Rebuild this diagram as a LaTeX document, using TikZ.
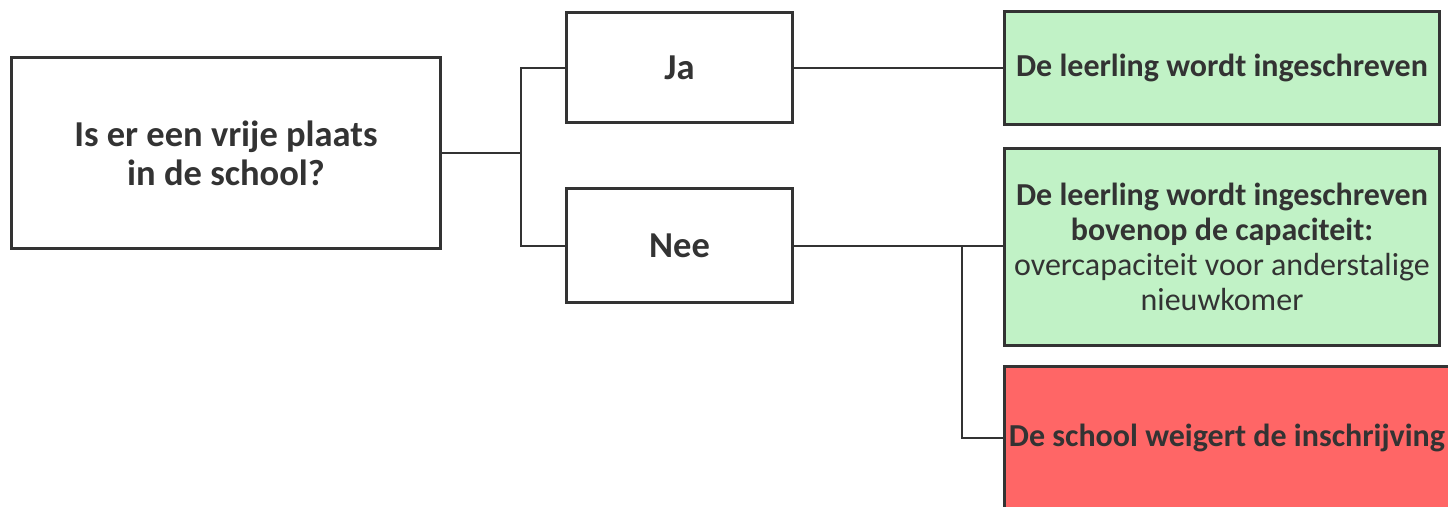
\documentclass[tikz,border=0pt]{standalone}
\usepackage{fontspec}
\setmainfont{Carlito}
\usepackage{tikz}
\usetikzlibrary{positioning}
\definecolor{darkgray}{HTML}{333333}
\definecolor{okgreen}{HTML}{C1F2C6}
\definecolor{nored}{HTML}{FF6666}
\tikzstyle{box} = [rectangle, draw=darkgray, line width=3pt, text=darkgray, align=center, inner sep=0pt, font=\bfseries\fontsize{36.5}{39}\selectfont]
\tikzstyle{answer} = [box, minimum width=226pt, minimum height=112pt]
\tikzstyle{result} = [box, minimum width=435pt, font=\bfseries\fontsize{32}{35}\selectfont]
\tikzstyle{line} = [draw=darkgray, line width=2pt]
\begin{document}
\begin{tikzpicture}[x=1pt, y=-1pt]
\useasboundingbox (0,0) rectangle (1448,506);
\clip (0,0) rectangle (1448,506);

\node (quest) [box, minimum width=429pt, minimum height=191pt] at (226,153) {Is er een vrije plaats\\in de school?};
\node (ja) [answer, minimum height=110pt] at (679.5,67.5) {Ja};
\node (nee) [answer, minimum height=114pt] at (679.5,245.5) {Nee};

\node (ok) [result, fill=okgreen, minimum height=113pt] at (1222,68) {De leerling wordt ingeschreven};
\node (over) [result, fill=okgreen, minimum height=197pt] at (1222,247) {De leerling wordt ingeschreven\\bovenop de capaciteit:\\\mdseries overcapaciteit voor anderstalige\\\mdseries nieuwkomer};
\node (refuse) [result, fill=nored, minimum width=445pt, minimum height=143pt] at (1227,437.5) {De school weigert de inschrijving};

\coordinate (split) at (521,153);
\coordinate (split2) at (962,245.5);
\draw [line] (quest.east) -- (split) |- (ja.west);
\draw [line] (split) |- (nee.west);
\draw [line] (ja.east) -- (ja.east -| ok.west);
\draw [line] (nee.east) -- (nee.east -| over.west);
\draw [line] (split2) |- (refuse.west);

\end{tikzpicture}
\end{document}
